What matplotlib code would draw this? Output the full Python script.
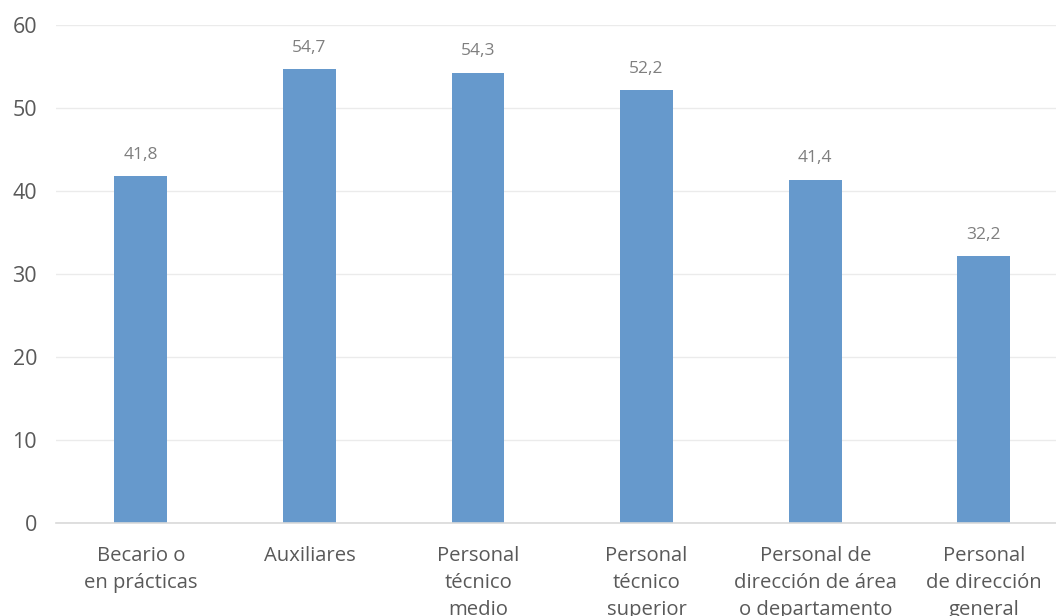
import matplotlib
matplotlib.use("Agg")
import matplotlib.pyplot as plt

categories = [
    "Becario o\nen prácticas",
    "Auxiliares",
    "Personal\ntécnico\nmedio",
    "Personal\ntécnico\nsuperior",
    "Personal de\ndirección de área\no departamento",
    "Personal\nde dirección\ngeneral",
]
values = [41.8, 54.7, 54.3, 52.2, 41.4, 32.2]
yticks = [0, 10, 20, 30, 40, 50, 60]

plt.rcParams["font.family"] = ["Open Sans", "DejaVu Sans"]

fig = plt.figure(figsize=(10.56, 6.16), dpi=100)
ax = fig.add_axes([0.0535, 0.151, 0.958, 0.808])

x = range(len(categories))
ax.bar(x, values, width=0.314, color="#6699CC", zorder=3)

for xi, v in zip(x, values):
    ax.annotate(f"{v:.1f}".replace(".", ","), (xi, v), xytext=(0, 9.5),
                textcoords="offset points", ha="center", va="bottom",
                fontsize=12.5, color="#7F7F7F")

ax.set_xlim(-0.5, len(categories) - 0.5)
ax.set_ylim(0, 60)
ax.set_yticks(yticks)
ax.set_yticklabels([str(t) for t in yticks], fontsize=15.5, color="#595959",
                   fontweight="medium")
ax.set_xticks(list(x))
ax.set_xticklabels(categories, fontsize=14.6, color="#595959", linespacing=1.48,
                   fontweight="medium")
ax.tick_params(axis="both", length=0)
ax.tick_params(axis="y", pad=14)
ax.tick_params(axis="x", pad=16.5)

ax.grid(axis="y", color="#EBEBEB", linewidth=1, zorder=0)
for side in ["top", "right", "left"]:
    ax.spines[side].set_visible(False)
ax.spines["bottom"].set_color("#D9D9D9")
ax.spines["bottom"].set_linewidth(1.2)
ax.spines["bottom"].set_zorder(4)

fig.savefig("out.png", dpi=100)
